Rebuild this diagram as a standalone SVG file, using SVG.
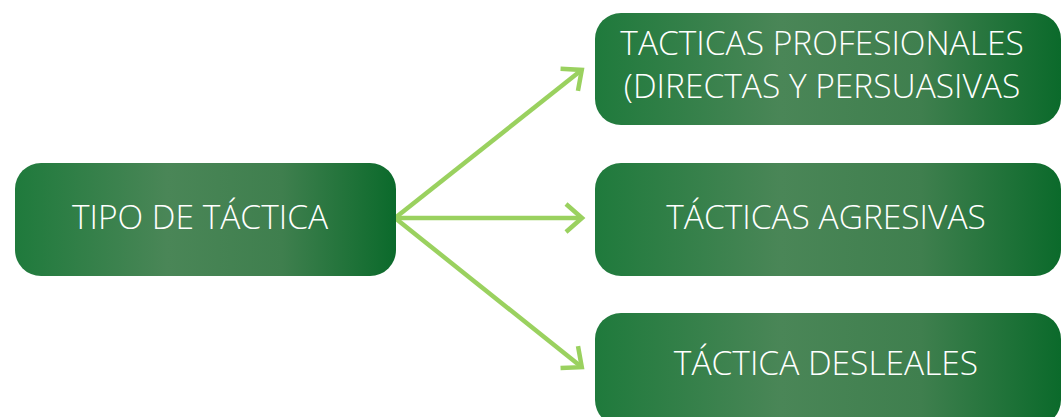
<svg xmlns="http://www.w3.org/2000/svg" width="1062" height="417" viewBox="0 0 1062 417">
  <defs>
    <linearGradient id="g" x1="0" y1="0" x2="1" y2="0">
      <stop offset="0" stop-color="#1f7a3c"/>
      <stop offset="0.4" stop-color="#4a8657"/>
      <stop offset="0.7" stop-color="#3f7f4e"/>
      <stop offset="1" stop-color="#0b6a2b"/>
    </linearGradient>
    <marker id="ah" markerUnits="userSpaceOnUse" markerWidth="40" markerHeight="40" viewBox="-20 -20 40 40" refX="0" refY="0" orient="auto" overflow="visible">
      <path d="M -15 -14 L 1 0 L -15 14" fill="none" stroke="#9ad15f" stroke-width="4.5"/>
    </marker>
    <style>
      .box { fill: url(#g); }
      .t { font-family: "Open Sans", "Liberation Sans", sans-serif; font-size: 33.5px; font-weight: 300; fill: #ffffff; text-anchor: middle; }
      .c { stroke: #9ad15f; stroke-width: 4.5; fill: none; marker-end: url(#ah); }
    </style>
  </defs>
  <rect width="1062" height="417" fill="#ffffff"/>
  <g id="connectors">
    <line class="c" x1="395" y1="218" x2="581" y2="70.5"/>
    <line class="c" x1="395" y1="218" x2="581" y2="218"/>
    <line class="c" x1="395" y1="218" x2="581" y2="366.5"/>
  </g>
  <g id="node-tipo">
    <rect class="box" x="15" y="163" width="381" height="113" rx="26"/>
    <text class="t" x="200" y="229">TIPO DE TÁCTICA</text>
  </g>
  <g id="node-profesionales">
    <rect class="box" x="595" y="13" width="466" height="112" rx="26"/>
    <text class="t" x="822" y="54.5">TACTICAS PROFESIONALES</text>
    <text class="t" x="822" y="97.5">(DIRECTAS Y PERSUASIVAS</text>
  </g>
  <g id="node-agresivas">
    <rect class="box" x="595" y="163" width="466" height="113" rx="26"/>
    <text class="t" x="826" y="229">TÁCTICAS AGRESIVAS</text>
  </g>
  <g id="node-desleales">
    <rect class="box" x="595" y="313" width="466" height="113" rx="26"/>
    <text class="t" x="826" y="375">TÁCTICA DESLEALES</text>
  </g>
</svg>
